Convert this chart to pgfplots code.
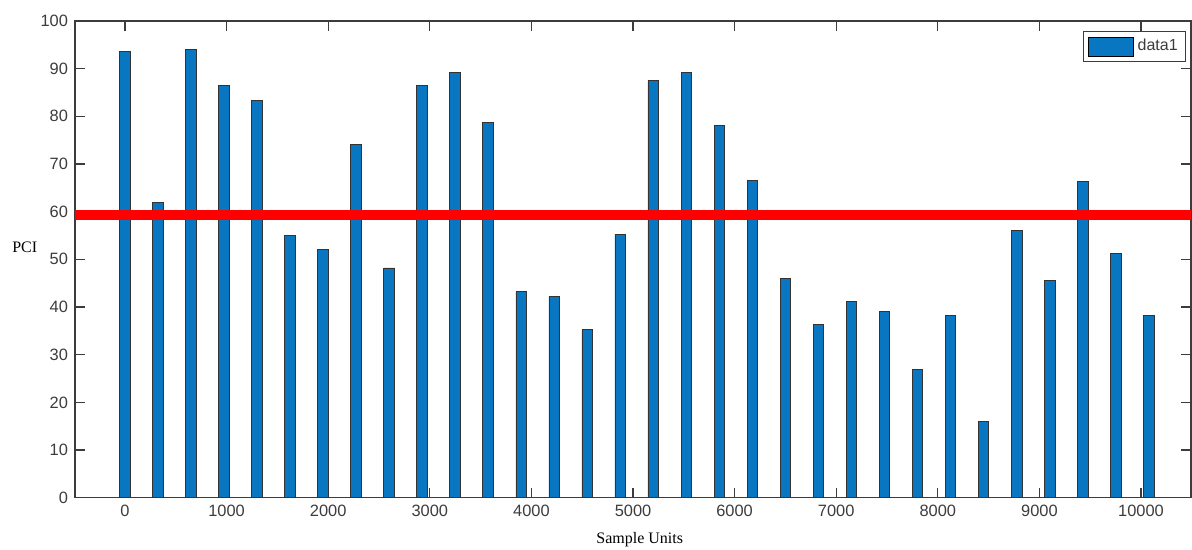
\documentclass[border=0pt]{standalone}
\usepackage{fontspec}
\setmainfont{Liberation Serif}
\setsansfont{Liberation Sans}
\usepackage{pgfplots}
\pgfplotsset{compat=1.18}
\definecolor{mblue}{RGB}{8,118,192}
\definecolor{axgray}{RGB}{60,60,60}
\begin{document}
\begin{tikzpicture}[x=1pt,y=1pt]
\useasboundingbox (-37.5,-26.15) rectangle (558.5,248.85);
\begin{axis}[
  at={(0,0)}, anchor=south west, scale only axis,
  width=558pt, height=238.35pt,
  xmin=-492, xmax=10492, ymin=0, ymax=100,
  xtick={0,1000,...,10000}, ytick={0,10,...,100},
  tick align=inside, major tick length=5pt,
  scaled x ticks=false,
  axis line style={axgray, line width=0.6pt},
  every tick/.style={axgray, line width=0.6pt},
  /pgf/number format/assume math mode=true,
  xticklabel style={/pgf/number format/1000 sep={}},
  tick label style={font=\sffamily\fontsize{8.2}{9}\selectfont, text=axgray},
  xlabel={Sample Units}, ylabel={PCI},
  label style={font=\rmfamily\fontsize{8}{9}\selectfont, text=black},
  xlabel style={at={(axis description cs:0.506,-0.089)}, anchor=center},
  ylabel style={rotate=-90, at={(axis description cs:-0.045,0.526)}, anchor=center},
  legend style={at={(1,1)}, anchor=north east, xshift=-2.4pt, yshift=-4.9pt,
    draw=axgray, line width=0.5pt, font=\sffamily\fontsize{8}{9}\selectfont, text=axgray,
    inner xsep=2pt, inner ysep=2pt},
  legend image code/.code={\draw[#1, draw=black, line width=0.4pt] (0pt,-4.75pt) rectangle (22.5pt,4.75pt);},
]
\addplot[ybar, bar width=105, bar shift=0pt, fill=mblue, draw=black!80, line width=0.4pt]
coordinates {
(0,93.6) (325,62.0) (650,94.1) (975,86.4) (1300,83.4) (1625,55.0) (1950,52.1) (2275,74.1)
(2600,48.2) (2925,86.4) (3250,89.2) (3575,78.8) (3900,43.2) (4225,42.2) (4550,35.2) (4875,55.3)
(5200,87.5) (5525,89.2) (5850,78.1) (6175,66.6) (6500,45.9) (6825,36.3) (7150,41.1) (7475,39.1)
(7800,26.9) (8125,38.3) (8450,15.9) (8775,56.0) (9100,45.5) (9425,66.4) (9750,51.3) (10075,38.2)
};
\addlegendentry{data1}
\addplot[red, line width=5.35pt, forget plot] coordinates {(-492,59.3) (10492,59.3)};
\end{axis}
\end{tikzpicture}
\end{document}
